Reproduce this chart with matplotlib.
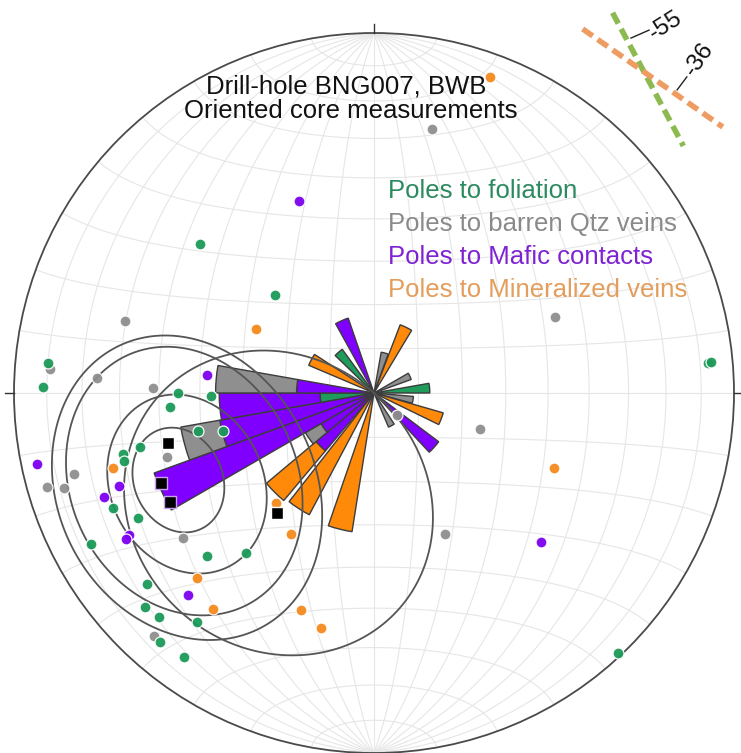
import numpy as np
import matplotlib.pyplot as plt
from matplotlib.patches import Wedge, Circle

plt.rcParams['font.family'] = ['Liberation Sans', 'DejaVu Sans']

# poles, trend / plunge in degrees (lower hemisphere)
foliation_trend = [310.6, 314.7, 275.3, 271.0, 84.9, 84.8, 270.0, 266.1, 268.9, 257.8, 255.9, 257.0, 256.3,
                   254.8, 246.2, 242.1, 241.9, 225.7, 218.7, 229.9, 226.9, 223.8, 217.7, 220.7, 215.7, 136.8]
foliation_plunge = [36.5, 58.2, 9.9, 8.8, 7.6, 6.7, 44.7, 42.6, 52.6, 48.6, 54.3, 33.7, 29.0,
                    28.8, 21.9, 26.7, 11.8, 35.4, 42.5, 18.6, 13.9, 14.7, 20.7, 9.6, 10.5, 1.1]

qtz_trend = [12.4, 67.2, 286.1, 273.1, 271.3, 274.2, 252.8, 254.9, 253.0, 254.0, 232.8, 108.8, 153.3, 133.7, 222.2]
qtz_plunge = [25.8, 44.6, 28.8, 23.9, 38.5, 10.6, 39.6, 14.7, 10.8, 6.1, 33.8, 64.6, 53.8, 82.8, 9.8]

mafic_trend = [338.7, 276.2, 258.1, 250.0, 248.9, 239.9, 239.5, 222.6, 131.7]
mafic_plunge = [42.2, 51.4, 4.9, 25.5, 20.7, 22.4, 21.3, 24.7, 37.8]

minvein_trend = [20.2, 298.5, 254.0, 221.7, 210.5, 223.7, 216.7, 198.6, 192.7, 112.6]
minvein_plunge = [7.2, 59.4, 25.5, 56.3, 52.5, 29.6, 26.2, 36.5, 33.5, 44.9]

# black squares
axis_trend = [256.4, 247.1, 241.9, 218.9]
axis_plunge = [40.8, 35.9, 35.9, 54.7]

# small circles: axis trend, plunge, half-apex angle
cone_trend = [243, 245, 244, 246, 221]
cone_plunge = [39.0, 39.7, 41.0, 40.0, 55.0]
cone_angle = [32.5, 28.5, 19.0, 11.0, 35.0]

# rose petals (azimuth of bin centre, 10 deg bins), stacked per type
rose_az = [336, 319, 298, 26, 15, 65, 85, 100, 111, 132, 152, 194, 213, 225, 235, 245, 255, 265, 275]
rose_fol = [0, 1.5, 0, 0, 0, 0, 1.55, 0, 0, 0, 0, 0, 0, 0, 0, 0, 0, 1.5, 0]
rose_maf = [2.2, 0, 0, 0, 0, 0, 0, 0, 0, 2.25, 0, 0, 0, 2.1, 1.7, 6.5, 4.35, 2.8, 2.15]
rose_qtz = [0, 0, 0, 0, 1.15, 1.1, 0, 1.1, 0, 0, 1.03, 0, 0, 0, 0.5, 0, 1.1, 0, 2.25]
rose_min = [0, 0, 1.97, 2.03, 0, 0, 0, 0, 2.0, 0, 0, 3.9, 3.83, 1.8, 0, 0, 0, 0, 0]

# drill-hole traces
trace_az = [152, 125]
trace_labels = ['-55', '-36']

legend_labels = ['Poles to foliation', 'Poles to barren Qtz veins',
                 'Poles to Mafic contacts', 'Poles to Mineralized veins']

c_fol, c_qtz, c_maf, c_min = '#1b9a58', '#8e8e8e', '#7d00f0', '#f5891c'
rose_colors = ['#1f9c5c', '#8000ff', '#8f8f8f', '#ff8a0a']
text_colors = ['#2c8a60', '#8a8a8a', '#7f22d2', '#e39d5c']


def to_xy(n, e, d):
    d = np.where(d < -1e-9, np.nan, d)
    k = 1.0 / np.sqrt(1.0 + d)
    return e * k, n * k


def line_xy(trend, plunge):
    t = np.radians(np.asarray(trend))
    p = np.radians(np.asarray(plunge))
    return to_xy(np.cos(p) * np.cos(t), np.cos(p) * np.sin(t), np.sin(p))


def small_circle(trend, plunge, cone):
    t, p, c = np.radians([trend, plunge, cone])
    a = np.array([np.cos(p) * np.cos(t), np.cos(p) * np.sin(t), np.sin(p)])
    u = np.array([-np.sin(p) * np.cos(t), -np.sin(p) * np.sin(t), np.cos(p)])
    w = np.cross(a, u)
    phi = np.linspace(0, 2 * np.pi, 400)
    v = np.cos(c) * a[:, None] + np.sin(c) * (np.cos(phi) * u[:, None] + np.sin(phi) * w[:, None])
    return to_xy(*v)


fig = plt.figure(figsize=(7.41, 7.53), dpi=100)
ax = fig.add_axes([0, 0, 1, 1])
ax.set_xlim(-374 / 360, 367 / 360)
ax.set_ylim(-360 / 360, 393 / 360)
ax.axis('off')

# equal-area net, 10 deg grid
s = np.linspace(0, np.pi, 181)
for dip in range(10, 180, 10):
    dr = np.radians(dip)
    x, y = to_xy(np.cos(s), np.sin(s) * np.cos(dr), np.sin(s) * np.sin(dr))
    ax.plot(x, y, color='#e6e6e6', lw=0.8, zorder=1)
for lat in range(10, 180, 10):
    a = np.radians(lat)
    x, y = to_xy(np.full_like(s, np.cos(a)), np.sin(a) * np.cos(s), np.sin(a) * np.sin(s))
    ax.plot(x, y, color='#e6e6e6', lw=0.8, zorder=1)

ax.add_patch(Circle((0, 0), 1, fill=False, ec='#4a4a4a', lw=1.3, zorder=2))
for ang in (0, 90, 180, 270):
    r = np.radians(ang)
    ax.plot([1.0 * np.sin(r), 1.025 * np.sin(r)], [1.0 * np.cos(r), 1.025 * np.cos(r)],
            color='#333333', lw=1.0, zorder=2)

# stacked rose
scale = 0.1
for i, az in enumerate(rose_az):
    th = 90 - az
    base = 0.0
    for vals, col in zip([rose_fol, rose_maf, rose_qtz, rose_min], rose_colors):
        v = vals[i]
        if v <= 0:
            continue
        outer = (base + v) * scale
        ax.add_patch(Wedge((0, 0), outer, th - 5, th + 5, width=v * scale,
                           fc=col, ec='#3c3c3c', lw=1.0, zorder=3))
        base += v

# small circles
for t, p, c in zip(cone_trend, cone_plunge, cone_angle):
    x, y = small_circle(t, p, c)
    ax.plot(x, y, color='#555555', lw=1.3, zorder=4)

# poles
for tr, pl, col in [(qtz_trend, qtz_plunge, c_qtz), (foliation_trend, foliation_plunge, c_fol),
                    (mafic_trend, mafic_plunge, c_maf), (minvein_trend, minvein_plunge, c_min)]:
    x, y = line_xy(tr, pl)
    ax.scatter(x, y, s=62, c=col, edgecolors='#ffffff', linewidths=0.9, alpha=0.95, zorder=5)

x, y = line_xy(axis_trend, axis_plunge)
ax.scatter(x, y, s=70, marker='s', c='black',
           edgecolors=['white', '#c9a0f0', '#c9a0f0', 'white'], linewidths=1.0, zorder=6)

# titles and legend text
ax.text(-0.076, 0.833, 'Drill-hole BNG007, BWB', ha='center', va='baseline', fontsize=18.5, color='#111111', zorder=7)
ax.text(-0.064, 0.764, 'Oriented core measurements', ha='center', va='baseline', fontsize=18.5, color='#111111', zorder=7)
for k, (lab, col) in enumerate(zip(legend_labels, text_colors)):
    ax.text(0.039, 0.542 - k * 0.0917, lab, ha='left', va='baseline', fontsize=18.5, color=col, zorder=7)

# drill-hole traces with dip labels
cx, cy = 0.75, 0.892
trace_colors = ['#8dba4e', '#ee9c62']
back = [0.186, 0.208]
fwd = [0.233, 0.267]
for az, col, b, f in zip(trace_az, trace_colors, back, fwd):
    dx, dy = np.sin(np.radians(az)), np.cos(np.radians(az))
    ax.plot([cx - b * dx, cx + f * dx], [cy - b * dy, cy + f * dy], color=col, lw=4,
            dashes=(2.2, 1.1), solid_capstyle='butt', zorder=7, clip_on=False)
ax.plot([0.714, 0.764], [0.986, 1.008], color='#222222', lw=1.0, zorder=8)
ax.text(0.768, 0.994, trace_labels[0], rotation=32, rotation_mode='anchor', ha='left', va='center',
        fontsize=17.5, color='#111111', zorder=8)
ax.plot([0.842, 0.869], [0.842, 0.878], color='#222222', lw=1.0, zorder=8)
ax.text(0.875, 0.888, trace_labels[1], rotation=55, rotation_mode='anchor', ha='left', va='center',
        fontsize=17.5, color='#111111', zorder=8)

fig.savefig('out.png', dpi=100)
